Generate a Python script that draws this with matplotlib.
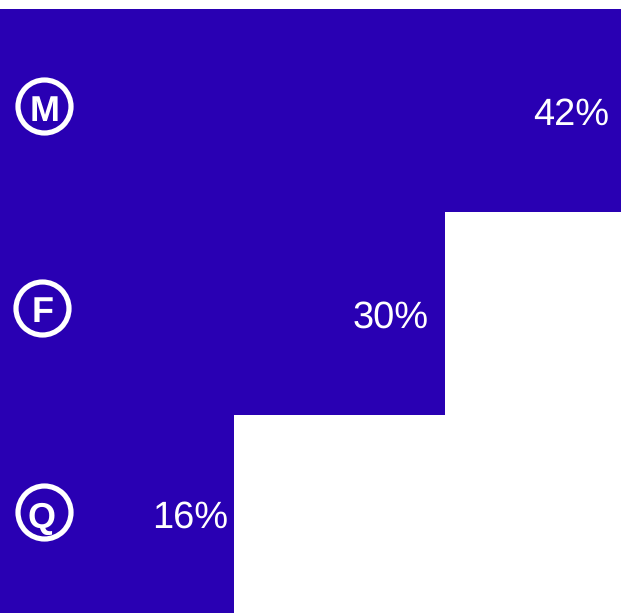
#!/usr/bin/env python3
"""Stepped horizontal bars with circled letters and percent labels."""
import matplotlib
matplotlib.use("Agg")
import matplotlib.pyplot as plt
from matplotlib.transforms import Affine2D

W, H = 621, 613
BLUE = "#2900b3"

letters = ["M", "F", "Q"]
values = [42.0, 30.1, 15.8]
labels = ["42%", "30%", "16%"]

# pixel positions of the overlay items, measured from the top left
circle_xy = [(44, 105.5), (42, 307.5), (43.5, 512)]
letter_xy = [(45, 107.5), (43, 308.5), (42, 514.5)]
label_xy = [(609, 111), (428.5, 314), (228, 514)]

plt.rcParams["font.family"] = ["Liberation Sans", "DejaVu Sans"]
plt.rcParams["text.hinting"] = "no_hinting"
plt.rcParams["text.hinting_factor"] = 1

fig = plt.figure(figsize=(W / 100, H / 100), dpi=100)
# three rows of 203 px, the last runs off the bottom of the figure
ax = fig.add_axes([0, (H - 618) / H, 1, 609 / H])
ax.barh(range(len(values)), values, height=1.0, color=BLUE, linewidth=0)
ax.set_xlim(0, 42)
ax.set_ylim(2.5, -0.5)
ax.axis("off")

px = Affine2D().scale(1, -1).translate(0, H)
for letter, cxy, lxy, text, txy in zip(letters, circle_xy, letter_xy, labels, label_xy):
    ax.plot(*cxy, marker="o", ms=53 * 0.72, mfc="none", mec="white", mew=5.2 * 0.72,
            transform=px, clip_on=False)
    ax.text(*lxy, letter, color="white", fontsize=26, fontweight="bold",
            ha="center", va="center_baseline", transform=px)
    ax.text(*txy, text, color="white", fontsize=27.2,
            ha="right", va="center_baseline", transform=px)

fig.savefig("out.png", dpi=100)
